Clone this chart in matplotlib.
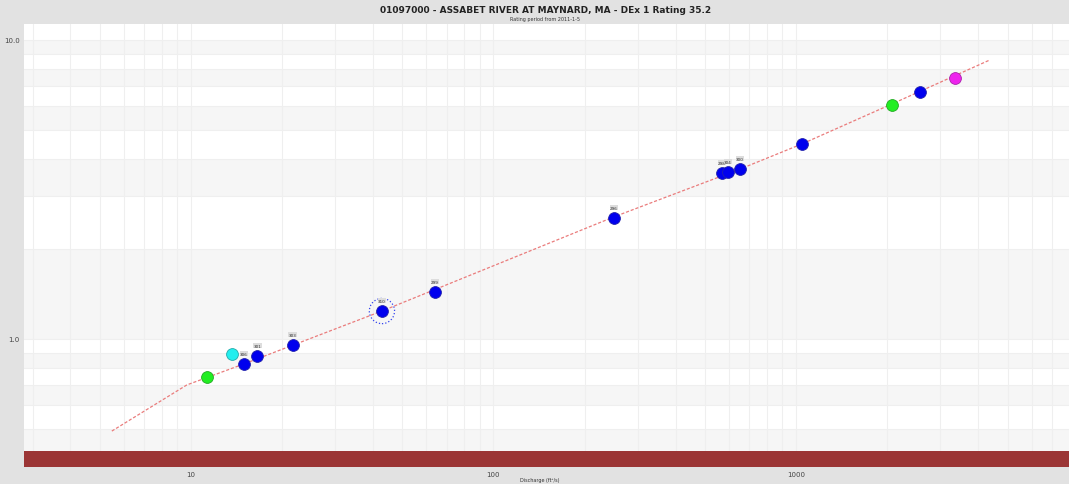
import matplotlib
matplotlib.use("Agg")
import matplotlib.pyplot as plt

# rating curve (discharge ft3/s, gage height ft)
curve_q = [5.48, 9.70, 14.97, 42.8, 250, 653, 1046, 2075, 4378]
curve_h = [0.492, 0.702, 0.825, 1.240, 2.56, 3.70, 4.49, 6.11, 8.58]

# measurements
meas_q = [14.97, 16.6, 21.7, 42.8, 64.1, 250, 569, 596, 653, 1046, 2570]
meas_h = [0.825, 0.877, 0.955, 1.240, 1.436, 2.54, 3.59, 3.62, 3.70, 4.49, 6.70]
meas_lbl = ["306", "301", "303", "310", "299", "296", "298", "304", "300", "", ""]

# special points
green_q = [11.3, 2075]
green_h = [0.746, 6.06]
cyan_q = [13.7]
cyan_h = [0.891]
mag_q = [3354]
mag_h = [7.46]

fig = plt.figure(figsize=(10.69, 4.85), dpi=100, facecolor="#e2e2e2")
ax = fig.add_axes([0.0225, 0.035, 0.9775, 0.9135])
ax.set_xscale("log")
ax.set_yscale("log")
ax.set_xlim(2.81, 7980)
ax.set_ylim(0.373, 11.31)
ax.set_facecolor("white")

# alternating bands between gridlines
grid_y = [0.4, 0.5, 0.6, 0.7, 0.8, 0.9, 1, 2, 3, 4, 5, 6, 7, 8, 9, 10]
for i in range(len(grid_y) - 1):
    if i % 2 == 0:
        ax.axhspan(grid_y[i], grid_y[i + 1], color="#f6f6f6", lw=0, zorder=0)
ax.axhspan(0.373, 0.422, color="#9b3535", lw=0, zorder=1)

ax.grid(True, which="both", axis="both", color="#efefef", lw=0.8, zorder=0.5)
ax.set_axisbelow(True)

ax.plot(curve_q, curve_h, color="#ea7c7c", lw=0.9, ls=(0, (2.5, 1.5)), zorder=2)

ax.plot(meas_q, meas_h, "o", ms=8.5, mfc="#0000ee", mec="#2222aa", mew=0.6, zorder=3)
ax.plot(green_q, green_h, "o", ms=8.5, mfc="#22ee22", mec="#22aa22", mew=0.6, zorder=3)
ax.plot(cyan_q, cyan_h, "o", ms=8.5, mfc="#22eeee", mec="#22aaaa", mew=0.6, zorder=3)
ax.plot(mag_q, mag_h, "o", ms=8.5, mfc="#ee22ee", mec="#aa22aa", mew=0.6, zorder=3)
# highlighted measurement
ax.scatter([meas_q[3]], [meas_h[3]], s=330, facecolors="none", edgecolors="#3344ee",
           linewidths=0.9, linestyles=":", zorder=3)

for q, h, t in zip(meas_q, meas_h, meas_lbl):
    if t:
        ax.annotate(t, (q, h), xytext=(0, 6), textcoords="offset points",
                    ha="center", va="bottom", fontsize=3, color="#333333",
                    bbox=dict(boxstyle="square,pad=0.1", fc="#dddddd", ec="none"),
                    zorder=4)

for s in ax.spines.values():
    s.set_visible(False)
ax.tick_params(which="both", length=0, labelsize=5, colors="#444444", pad=3)
ax.set_xticks([10, 100, 1000])
ax.set_xticklabels(["10", "100", "1000"])
ax.set_yticks([1, 10])
ax.set_yticklabels(["1.0", "10.0"])
ax.xaxis.set_minor_locator(matplotlib.ticker.LogLocator(subs=range(2, 10)))
ax.yaxis.set_minor_locator(matplotlib.ticker.LogLocator(subs=range(2, 10)))
ax.xaxis.set_minor_formatter(matplotlib.ticker.NullFormatter())
ax.yaxis.set_minor_formatter(matplotlib.ticker.NullFormatter())

fig.text(0.51, 0.979, "01097000 - ASSABET RIVER AT MAYNARD, MA - DEx 1 Rating 35.2",
         ha="center", va="center", fontsize=6.5, fontweight="bold", color="#222222")
fig.text(0.51, 0.96, "Rating period from 2011-1-5", ha="center", va="center",
         fontsize=3.5, color="#333333")
fig.text(0.505, 0.004, "Discharge (ft³/s)", ha="center", va="bottom",
         fontsize=3.5, color="#333333")

fig.savefig("out.png", dpi=100, facecolor=fig.get_facecolor())
